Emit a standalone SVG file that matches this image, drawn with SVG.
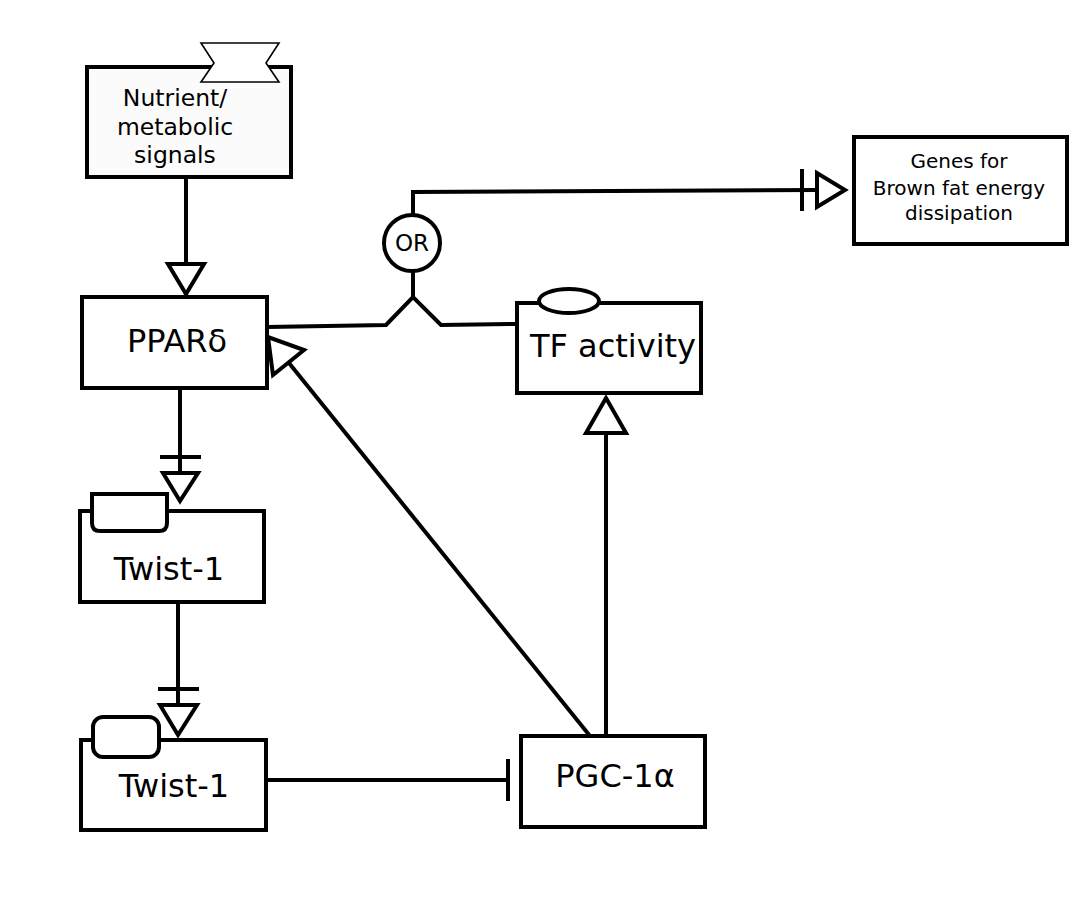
<svg xmlns="http://www.w3.org/2000/svg" width="1089" height="924" viewBox="0 0 1089 924">
<style>
.box{fill:#fff;stroke:#000;stroke-width:4}
.ln{fill:none;stroke:#000;stroke-width:4}
.tri{fill:#fff;stroke:#000;stroke-width:4;stroke-linejoin:miter}
text{font-family:"DejaVu Sans",sans-serif;fill:#000;text-anchor:middle}
.big{font-size:32px}
</style>
<rect width="1089" height="924" fill="#fff"/>
<g id="connectors">
  <!-- Nutrient -> PPARd -->
  <line class="ln" x1="186" y1="177" x2="186" y2="264"/>
  <polygon class="tri" points="168,264 204,264 186,294"/>
  <!-- PPARd -> Twist-1 upper -->
  <line class="ln" x1="180" y1="390" x2="180" y2="473"/>
  <line class="ln" x1="160" y1="457" x2="201" y2="457"/>
  <polygon class="tri" points="163,473 198,473 180,501"/>
  <!-- Twist-1 upper -> Twist-1 lower -->
  <line class="ln" x1="178" y1="602" x2="178" y2="705"/>
  <line class="ln" x1="158" y1="689" x2="199" y2="689"/>
  <polygon class="tri" points="160,705 197,705 178,735"/>
  <!-- Twist-1 lower -| PGC -->
  <line class="ln" x1="266" y1="780" x2="508" y2="780"/>
  <line class="ln" x1="508" y1="759" x2="508" y2="801"/>
  <!-- PGC -> TF activity -->
  <line class="ln" x1="606" y1="736" x2="606" y2="433"/>
  <polygon class="tri" points="586,433 626,433 606,398"/>
  <!-- PGC -> PPARd -->
  <line class="ln" x1="590" y1="736" x2="289" y2="363"/>
  <polygon class="tri" points="304,350 273,375 268,337"/>
  <!-- OR inputs -->
  <polyline class="ln" points="267,327 386,325 413,297 441,325 517,324"/>
  <line class="ln" x1="413" y1="297" x2="413" y2="271"/>
  <!-- OR -> Genes -->
  <polyline class="ln" points="413,215 413,192 817,190"/>
  <line class="ln" x1="802" y1="169" x2="802" y2="211"/>
  <polygon class="tri" points="817,173 817,207 845,190"/>
</g>
<g id="nutrient">
  <rect x="87" y="67" width="204" height="110" fill="#fbfbfb" stroke="#000" stroke-width="4"/>
  <polygon points="201,43 279,43 266,63 279,82 201,82 214,63" fill="#fff" stroke="#000" stroke-width="1.6"/>
  <text x="175" y="106" font-size="23.5">Nutrient/</text>
  <text x="175" y="135" font-size="23.5">metabolic</text>
  <text x="175" y="163" font-size="23.5">signals</text>
</g>
<g id="ppard">
  <rect class="box" x="82" y="297" width="185" height="91"/>
  <text class="big" x="177" y="352">PPARδ</text>
</g>
<g id="or">
  <circle cx="412" cy="243" r="28" fill="#fff" stroke="#000" stroke-width="4"/>
  <text x="412" y="251" font-size="23">OR</text>
</g>
<g id="tf">
  <rect class="box" x="517" y="303" width="184" height="90"/>
  <ellipse cx="569" cy="301" rx="30" ry="12" fill="#fff" stroke="#000" stroke-width="4"/>
  <text class="big" x="613" y="357">TF activity</text>
</g>
<g id="genes">
  <rect class="box" x="854" y="137" width="213" height="107"/>
  <text x="959" y="168" font-size="20">Genes for</text>
  <text x="959" y="195" font-size="20">Brown fat energy</text>
  <text x="959" y="220" font-size="20">dissipation</text>
</g>
<g id="twist1a">
  <rect class="box" x="80" y="511" width="184" height="91"/>
  <path d="M92,494 H167 V523 Q167,531 159,531 H100 Q92,531 92,523 Z" fill="#fff" stroke="#000" stroke-width="4"/>
  <text class="big" x="169" y="580">Twist-1</text>
</g>
<g id="twist1b">
  <rect class="box" x="81" y="740" width="185" height="90"/>
  <rect x="93" y="717" width="66" height="40" rx="10" fill="#fff" stroke="#000" stroke-width="4"/>
  <text class="big" x="174" y="797">Twist-1</text>
</g>
<g id="pgc">
  <rect class="box" x="521" y="736" width="184" height="91"/>
  <text class="big" x="615" y="787">PGC-1α</text>
</g>
</svg>
